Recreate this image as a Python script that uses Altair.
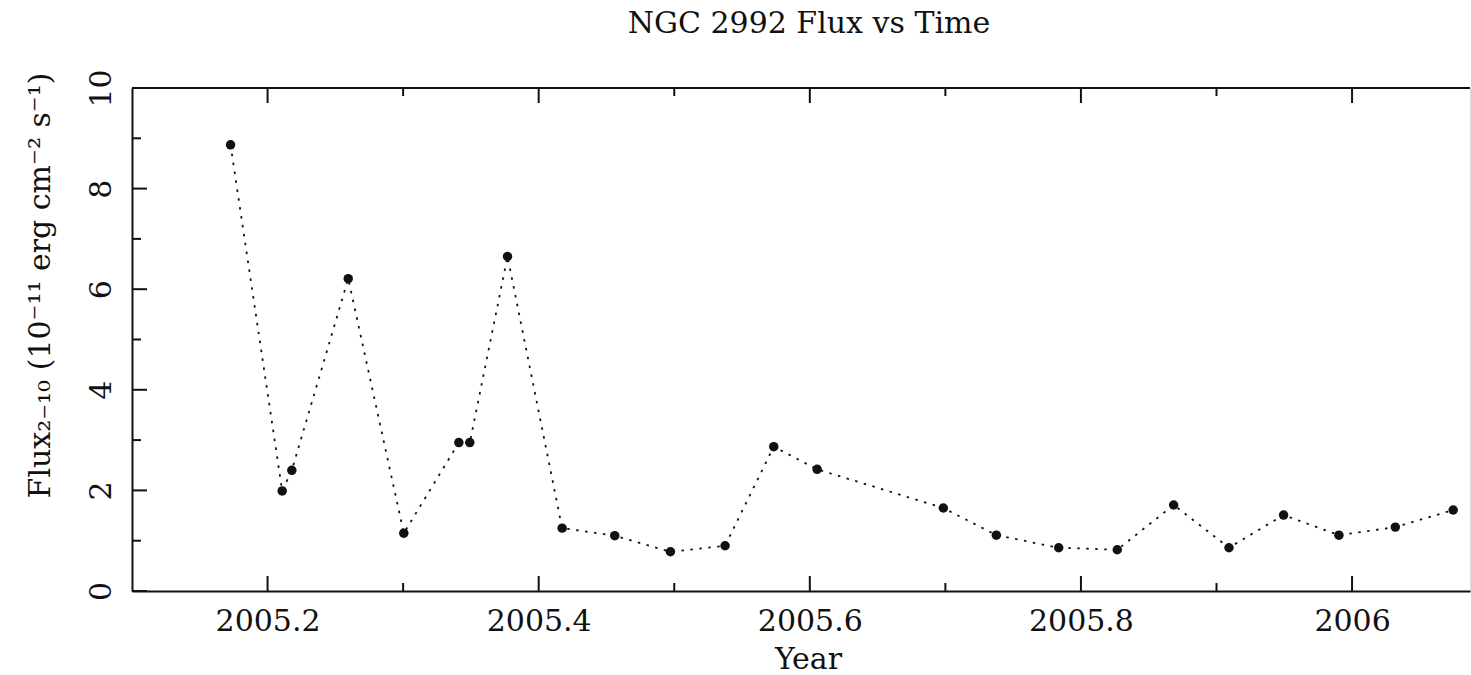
import altair as alt
import pandas as pd

# Observation epochs (decimal year) and 2-10 keV flux (1e-11 erg cm^-2 s^-1)
years = [2005.1727, 2005.2108, 2005.2179, 2005.2595, 2005.3005, 2005.3411,
         2005.3492, 2005.3770, 2005.4173, 2005.4561, 2005.4972, 2005.5375,
         2005.5734, 2005.6054, 2005.6985, 2005.7376, 2005.7836, 2005.8268,
         2005.8684, 2005.9092, 2005.9495, 2005.9903, 2006.0319, 2006.0746]
flux = [8.87, 1.99, 2.40, 6.21, 1.15, 2.95,
        2.95, 6.65, 1.25, 1.10, 0.78, 0.90,
        2.87, 2.42, 1.65, 1.11, 0.86, 0.82,
        1.71, 0.86, 1.51, 1.11, 1.27, 1.61]

# Axis tick positions
x_major_ticks = [2005.2, 2005.4, 2005.6, 2005.8, 2006.0]
x_minor_ticks = [2005.3, 2005.5, 2005.7, 2005.9]
y_major_ticks = [0, 2, 4, 6, 8, 10]
y_minor_ticks = [1, 3, 5, 7, 9]

chart_title = "NGC 2992 Flux vs Time"

W, H = 1338, 503
FONT = "DejaVu Serif"
FS = 30
INK = "#111111"

df = pd.DataFrame({"year": years, "flux": flux})
xmaj = pd.DataFrame({"year": x_major_ticks})
xmin = pd.DataFrame({"year": x_minor_ticks})
ymaj = pd.DataFrame({"flux": y_major_ticks})
ymin = pd.DataFrame({"flux": y_minor_ticks})
title_df = pd.DataFrame({"label": [chart_title]})

x_scale = alt.Scale(domain=[2005.1, 2006.087], zero=False, nice=False)
y_scale = alt.Scale(domain=[0, 10], zero=False, nice=False)

x_axis = alt.Axis(
    values=x_major_ticks, format="~f", title="Year",
    grid=False, ticks=False, tickSize=0,
    domain=True, domainColor=INK, domainWidth=2,
    labelFont=FONT, labelFontSize=FS, labelColor=INK,
    labelBaseline="alphabetic", labelPadding=39, labelFlush=False,
    titleFont=FONT, titleFontSize=FS, titleFontWeight="normal", titleColor=INK,
    titleX=676, titleY=77, titleAlign="center", titleBaseline="alphabetic",
)
y_axis = alt.Axis(
    values=y_major_ticks, title="Flux₂₋₁₀ (10⁻¹¹ erg cm⁻² s⁻¹)",
    grid=False, ticks=False, tickSize=0,
    domain=True, domainColor=INK, domainWidth=2,
    labelFont=FONT, labelFontSize=FS, labelColor=INK,
    labelAngle=270, labelAlign="center", labelBaseline="alphabetic",
    labelPadding=22, labelFlush=False,
    titleFont=FONT, titleFontSize=FS, titleFontWeight="normal", titleColor=INK,
    titleAngle=270, titleAlign="center", titleBaseline="middle",
    titleX=-92, titleY=197,
)

x_enc = alt.X("year:Q", scale=x_scale, axis=x_axis)
y_enc = alt.Y("flux:Q", scale=y_scale, axis=y_axis)

line = alt.Chart(df).mark_line(
    color=INK, strokeWidth=1.8, strokeDash=[2.5, 6.5]
).encode(x=x_enc, y=y_enc)

points = alt.Chart(df).mark_circle(
    color=INK, size=90, opacity=1
).encode(x=x_enc, y=y_enc)

rule_style = dict(color=INK, strokeWidth=2)

# Inward-facing tick marks on the bottom, top and left sides of the frame
bottom_major = alt.Chart(xmaj).mark_rule(**rule_style).encode(
    x=alt.X("year:Q", scale=x_scale), y=alt.value(H), y2=alt.value(H - 15))
bottom_minor = alt.Chart(xmin).mark_rule(**rule_style).encode(
    x=alt.X("year:Q", scale=x_scale), y=alt.value(H), y2=alt.value(H - 8))
top_major = alt.Chart(xmaj).mark_rule(**rule_style).encode(
    x=alt.X("year:Q", scale=x_scale), y=alt.value(0), y2=alt.value(15))
top_minor = alt.Chart(xmin).mark_rule(**rule_style).encode(
    x=alt.X("year:Q", scale=x_scale), y=alt.value(0), y2=alt.value(8))
left_major = alt.Chart(ymaj).mark_rule(**rule_style).encode(
    y=alt.Y("flux:Q", scale=y_scale), x=alt.value(0), x2=alt.value(15))
left_minor = alt.Chart(ymin).mark_rule(**rule_style).encode(
    y=alt.Y("flux:Q", scale=y_scale), x=alt.value(0), x2=alt.value(9))

# Top edge of the frame
top_edge = alt.Chart(xmaj).mark_rule(**rule_style).encode(
    x=alt.value(0), x2=alt.value(W), y=alt.value(0))

# Chart heading above the frame
heading = alt.Chart(title_df).mark_text(
    font=FONT, fontSize=FS, color=INK, align="center", baseline="alphabetic"
).encode(text="label:N", x=alt.value(677), y=alt.value(-55))

chart = alt.layer(
    line, points,
    bottom_major, bottom_minor, top_major, top_minor,
    left_major, left_minor, top_edge, heading,
).properties(
    width=W, height=H,
    autosize=alt.AutoSizeParams(type="none"),
    padding={"left": 132, "top": 88, "right": 1, "bottom": 84},
).configure_view(stroke="transparent").configure(background="white")

chart.save("out.html", embed_options={"renderer": "svg", "actions": False})
